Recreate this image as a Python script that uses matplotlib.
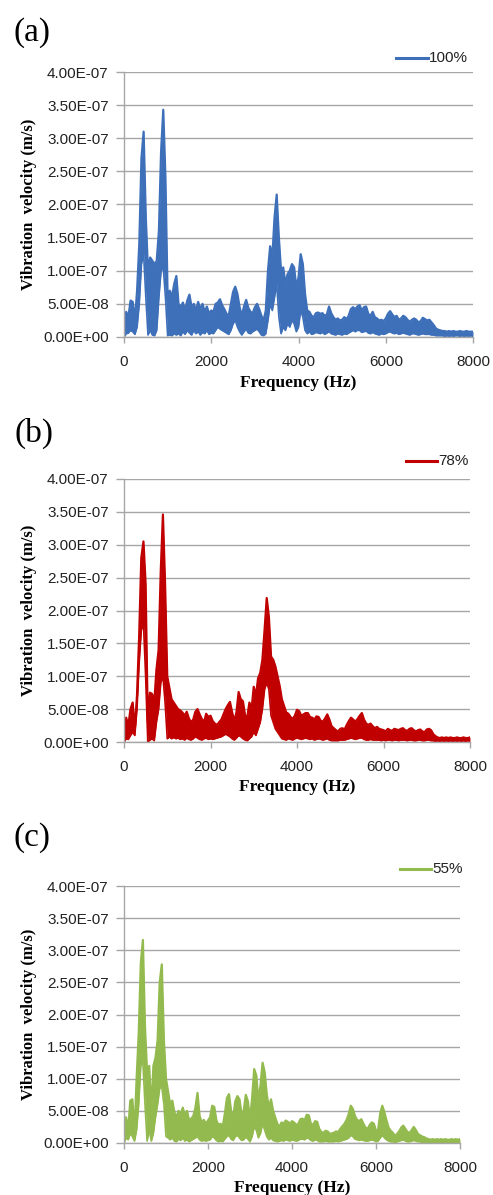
import numpy as np
import matplotlib
matplotlib.use("Agg")
import matplotlib.pyplot as plt
from matplotlib.ticker import FuncFormatter

# ---------------- data (values in units of 1e-8 m/s) ----------------
freq = list(range(0, 8001, 50))          # Hz, 161 sample frequencies
SCALE = 1e-8

hi_100 = [2.0, 3.8, 3.0, 5.5, 5.3, 2.5, 7.0, 14.0, 27.0, 31.0,
          18.0, 10.0, 12.0, 11.5, 11.0, 11.5, 16.0, 28.0, 34.3, 24.0,
          6.0, 7.0, 6.0, 8.0, 9.2, 5.0, 4.5, 5.2, 4.0, 5.5,
          6.4, 4.5, 5.0, 4.0, 5.3, 4.2, 5.0, 3.8, 4.6, 3.5,
          4.0, 3.8, 5.0, 5.2, 5.7, 4.8, 4.2, 3.5, 3.2, 5.0,
          6.8, 7.6, 6.5, 4.5, 3.2, 4.6, 5.6, 4.4, 3.8, 3.6,
          4.5, 5.0, 4.2, 3.2, 2.5, 4.0, 10.0, 13.7, 12.0, 18.0,
          21.5, 15.0, 10.0, 10.5, 8.0, 9.5, 10.0, 11.0, 10.5, 7.5,
          9.0, 12.5, 11.0, 6.5, 4.0, 3.8, 3.2, 3.0, 3.6, 3.7,
          3.5, 3.6, 3.2, 3.4, 4.6, 3.6, 3.0, 2.6, 2.8, 2.5,
          2.6, 3.0, 2.7, 3.2, 4.2, 4.5, 4.2, 4.6, 4.8, 4.0,
          4.5, 4.6, 3.5, 3.2, 3.8, 3.0, 2.8, 2.5, 2.6, 2.4,
          2.8, 3.5, 3.9, 3.4, 3.0, 3.2, 2.6, 2.8, 3.2, 3.0,
          2.6, 2.3, 2.6, 2.8, 2.6, 2.2, 2.4, 2.9, 2.7, 2.5,
          2.6, 2.2, 1.8, 1.3, 1.1, 1.0, 0.9, 0.9, 0.8, 0.9,
          0.8, 0.9, 0.8, 0.8, 0.9, 0.8, 0.8, 0.9, 0.8, 0.8,
          0.8]
lo_100 = [0.0, 0.5, 0.6, 1.0, 0.8, 0.4, 1.5, 5.0, 11.0, 12.5,
          6.0, 0.3, 1.0, 0.3, 0.2, 1.0, 6.0, 10.0, 10.5, 6.0,
          0.2, 0.3, 0.2, 0.5, 0.3, 0.5, 0.2, 0.8, 0.4, 1.0,
          0.6, 0.3, 1.0, 0.5, 0.8, 0.3, 0.7, 0.5, 1.0, 0.4,
          0.6, 0.5, 1.0, 1.5, 1.2, 1.0, 0.8, 0.6, 0.4, 1.0,
          2.0, 2.5, 1.5, 0.8, 0.3, 0.8, 1.2, 0.6, 0.5, 0.8,
          1.0, 1.2, 0.8, 0.3, 0.2, 0.5, 2.5, 5.0, 4.0, 6.0,
          8.0, 3.0, 0.5, 1.5, 1.0, 2.0, 1.5, 2.5, 2.0, 0.8,
          1.5, 4.0, 3.0, 1.0, 0.5, 0.8, 0.4, 0.5, 0.7, 0.6,
          0.5, 0.7, 0.4, 0.6, 0.8, 0.5, 0.4, 0.3, 0.5, 0.4,
          0.3, 0.5, 0.4, 0.6, 0.8, 1.0, 0.8, 1.0, 1.0, 0.7,
          0.8, 0.9, 0.6, 0.5, 0.7, 0.5, 0.4, 0.3, 0.5, 0.4,
          0.5, 0.7, 0.8, 0.6, 0.5, 0.6, 0.4, 0.5, 0.6, 0.5,
          0.4, 0.3, 0.5, 0.5, 0.4, 0.3, 0.4, 0.5, 0.4, 0.4,
          0.4, 0.3, 0.3, 0.2, 0.2, 0.2, 0.2, 0.1, 0.2, 0.1,
          0.2, 0.1, 0.2, 0.2, 0.1, 0.2, 0.1, 0.2, 0.1, 0.2,
          0.1]

hi_78 = [1.0, 3.7, 2.5, 5.0, 6.0, 2.0, 7.0, 16.0, 28.0, 30.5,
         24.0, 3.0, 7.5, 7.3, 6.0, 11.0, 14.0, 26.0, 34.6, 24.0,
         10.0, 8.2, 6.5, 6.0, 5.5, 5.0, 4.8, 4.5, 4.0, 4.6,
         3.6, 3.0, 3.4, 4.6, 5.0, 4.2, 3.5, 3.0, 4.3, 3.8,
         4.0, 3.2, 2.8, 2.6, 3.0, 3.4, 4.2, 5.0, 5.6, 6.1,
         4.5, 3.2, 4.5, 7.6, 6.5, 6.2, 4.0, 3.8, 6.0, 5.0,
         8.4, 7.0, 9.7, 10.5, 12.5, 17.0, 21.9, 19.0, 13.0, 12.5,
         11.5, 10.0, 8.5, 6.5, 5.5, 4.5, 4.3, 3.8, 3.5, 4.0,
         4.9, 4.7, 4.0, 4.2, 4.4, 4.4, 3.8, 3.7, 3.4, 3.9,
         3.8, 3.2, 3.1, 3.6, 4.2, 3.4, 2.4, 2.1, 1.8, 1.6,
         2.0, 2.1, 1.9, 2.6, 3.2, 3.7, 3.4, 3.1, 3.5, 4.0,
         4.4, 3.4, 2.8, 2.6, 2.8, 2.4, 2.1, 2.3, 2.0, 1.9,
         1.8, 1.6, 2.0, 1.8, 1.7, 2.0, 1.9, 1.8, 2.0, 2.1,
         1.8, 1.7, 2.0, 2.1, 1.8, 1.6, 1.8, 1.9, 1.6, 1.5,
         1.9, 2.0, 1.8, 1.2, 0.9, 0.7, 0.6, 0.7, 0.6, 0.7,
         0.6, 0.7, 0.6, 0.6, 0.7, 0.6, 0.6, 0.7, 0.6, 0.6,
         0.7]
lo_78 = [0.0, 0.5, 0.4, 1.0, 1.5, 1.0, 5.0, 12.0, 17.0, 18.0,
         10.0, 0.0, 0.3, 0.5, 0.2, 3.0, 5.0, 9.0, 10.0, 6.0,
         0.5, 0.8, 0.5, 0.7, 0.5, 0.6, 0.4, 0.5, 0.3, 0.6,
         0.4, 0.3, 0.5, 0.8, 0.6, 0.4, 0.3, 0.5, 0.6, 0.4,
         0.5, 0.4, 0.5, 0.6, 0.7, 0.8, 1.0, 1.2, 1.0, 0.8,
         0.5, 0.3, 0.6, 1.0, 0.8, 0.5, 0.3, 0.2, 0.5, 0.8,
         1.5, 1.0, 2.0, 3.0, 5.0, 8.0, 9.0, 8.0, 4.0, 3.0,
         2.0, 1.5, 1.0, 0.5, 0.4, 0.3, 0.5, 0.4, 0.3, 0.5,
         0.6, 0.5, 0.4, 0.5, 0.6, 0.5, 0.4, 0.5, 0.3, 0.4,
         0.5, 0.4, 0.3, 0.4, 0.5, 0.3, 0.2, 0.2, 0.2, 0.2,
         0.3, 0.3, 0.3, 0.4, 0.5, 0.6, 0.5, 0.4, 0.5, 0.6,
         0.6, 0.4, 0.3, 0.3, 0.4, 0.3, 0.3, 0.3, 0.3, 0.2,
         0.3, 0.2, 0.3, 0.3, 0.2, 0.3, 0.3, 0.2, 0.3, 0.3,
         0.3, 0.2, 0.3, 0.3, 0.2, 0.2, 0.3, 0.3, 0.2, 0.2,
         0.3, 0.3, 0.2, 0.2, 0.1, 0.2, 0.1, 0.2, 0.1, 0.2,
         0.1, 0.2, 0.1, 0.2, 0.1, 0.2, 0.1, 0.2, 0.1, 0.2,
         0.1]

hi_55 = [1.5, 4.0, 2.0, 6.6, 6.8, 1.5, 10.0, 17.0, 28.0, 31.6,
         18.0, 11.0, 12.0, 5.0, 12.0, 13.3, 16.0, 25.0, 27.8, 16.0,
         10.0, 8.0, 6.0, 6.6, 4.8, 4.0, 5.0, 4.5, 5.5, 4.2,
         5.0, 3.5, 3.8, 4.2, 5.5, 7.8, 4.2, 3.2, 3.6, 3.0,
         3.5, 4.0, 5.8, 5.6, 3.5, 2.8, 3.0, 2.5, 4.5, 7.0,
         7.6, 5.0, 4.0, 6.5, 7.3, 6.8, 4.5, 5.0, 7.5, 6.5,
         3.5, 7.0, 11.5, 10.5, 6.5, 9.0, 12.5, 11.0, 7.5, 5.5,
         6.8, 5.0, 4.0, 3.0, 2.5, 3.2, 3.0, 3.5, 3.3, 3.0,
         3.4, 3.2, 2.8, 3.0, 3.7, 3.8, 3.5, 4.4, 4.3, 3.0,
         2.8, 3.4, 3.3, 2.2, 1.7, 1.6, 1.9, 1.8, 1.4, 1.5,
         1.6, 1.8, 1.7, 2.2, 2.6, 3.0, 3.6, 4.5, 5.8, 5.3,
         4.2, 3.6, 3.4, 3.7, 3.0, 2.4, 2.2, 2.8, 3.2, 3.0,
         1.9, 2.0, 4.6, 5.8, 4.8, 3.5, 2.4, 1.9, 1.6, 1.1,
         1.4, 1.8, 2.4, 2.7, 2.2, 1.7, 1.6, 2.0, 2.5, 2.0,
         1.4, 1.2, 1.0, 0.9, 0.7, 0.6, 0.5, 0.6, 0.5, 0.6,
         0.5, 0.6, 0.5, 0.6, 0.5, 0.5, 0.6, 0.5, 0.6, 0.5,
         0.6]
lo_55 = [0.0, 0.8, 0.5, 1.5, 1.0, 0.3, 2.0, 6.0, 12.0, 12.5,
         6.0, 0.3, 2.0, 0.3, 1.5, 4.0, 6.0, 8.5, 8.7, 6.0,
         1.0, 0.8, 0.5, 0.8, 0.3, 0.2, 0.6, 0.4, 0.8, 0.3,
         0.5, 0.2, 0.4, 0.6, 0.8, 1.0, 0.5, 0.3, 0.4, 0.3,
         0.4, 0.5, 1.0, 0.8, 0.4, 0.2, 0.3, 0.2, 0.6, 1.0,
         1.2, 0.6, 0.4, 1.0, 1.2, 0.8, 0.4, 0.5, 1.0, 0.6,
         0.2, 1.0, 2.5, 2.0, 0.8, 1.5, 3.0, 2.0, 1.0, 0.5,
         0.8, 0.4, 0.3, 0.2, 0.3, 0.4, 0.3, 0.5, 0.4, 0.3,
         0.5, 0.4, 0.3, 0.4, 0.6, 0.6, 0.5, 0.8, 0.7, 0.4,
         0.3, 0.5, 0.4, 0.2, 0.2, 0.2, 0.3, 0.2, 0.2, 0.2,
         0.2, 0.3, 0.2, 0.3, 0.4, 0.5, 0.6, 0.8, 1.2, 1.0,
         0.6, 0.5, 0.4, 0.5, 0.4, 0.3, 0.3, 0.4, 0.5, 0.4,
         0.2, 0.3, 0.8, 1.2, 0.8, 0.5, 0.3, 0.2, 0.2, 0.1,
         0.2, 0.3, 0.4, 0.5, 0.3, 0.2, 0.2, 0.3, 0.4, 0.3,
         0.2, 0.2, 0.1, 0.1, 0.1, 0.1, 0.1, 0.1, 0.1, 0.1,
         0.1, 0.1, 0.1, 0.1, 0.1, 0.1, 0.1, 0.1, 0.1, 0.1,
         0.1]

panel_tags = ["(a)", "(b)", "(c)"]
series_names = ["100%", "78%", "55%"]
colors = ["#3E70BA", "#C00000", "#93BA4E"]
x_ticks = [0, 2000, 4000, 6000, 8000]
y_ticks = [0, 5e-8, 1e-7, 1.5e-7, 2e-7, 2.5e-7, 3e-7, 3.5e-7, 4e-7]

# ---------------- layout (pixel boxes: left, top, right, bottom) ----------------
W, H = 493, 1195
boxes = [(124, 72, 473, 337), (124, 479, 470, 742), (124, 886, 460, 1143)]
tag_pos = [(32, 33), (34, 433), (32, 838)]
legend_y = [58, 461, 869]
legend_line = [(396, 428), (406, 437), (400, 431)]
xlabel_y = [383, 787, 1188]
ylabel_x = 29

sans = ["Liberation Sans", "DejaVu Sans"]
serif = ["Liberation Serif", "DejaVu Serif"]

fig = plt.figure(figsize=(W / 100, H / 100), dpi=100)

def fx(px):
    return px / W

def fy(py):
    return 1 - py / H

his = [hi_100, hi_78, hi_55]
los = [lo_100, lo_78, lo_55]

for k in range(3):
    l, t, r, b = boxes[k]
    ax = fig.add_axes([fx(l), fy(b), fx(r) - fx(l), fy(t) - fy(b)])
    f = np.asarray(freq, dtype=float)
    hi = np.asarray(his[k]) * SCALE
    lo = np.asarray(los[k]) * SCALE
    ax.fill_between(f, lo, hi, color=colors[k], lw=0)
    ax.plot(f, hi, color=colors[k], lw=1.6, solid_joinstyle="round")
    ax.plot(f, lo, color=colors[k], lw=1.2, solid_joinstyle="round")
    ax.set_xlim(0, 8000)
    ax.set_ylim(0, 4e-7)
    ax.set_xticks(x_ticks)
    ax.set_yticks(y_ticks)
    ax.yaxis.set_major_formatter(FuncFormatter(lambda v, p: f"{v:.2E}"))
    ax.grid(axis="y", color="#A6A6A6", lw=1.0)
    ax.set_axisbelow(True)
    for s in ["top", "right"]:
        ax.spines[s].set_visible(False)
    for s in ["left", "bottom"]:
        ax.spines[s].set_color("#A6A6A6")
        ax.spines[s].set_linewidth(1.0)
    ax.tick_params(axis="y", length=6, width=1.0, color="#A6A6A6", pad=5,
                   labelsize=11, labelcolor="#222222")
    ax.tick_params(axis="x", length=4, width=1.0, color="#A6A6A6", pad=9,
                   labelsize=11, labelcolor="#222222")
    for lab in ax.get_xticklabels() + ax.get_yticklabels():
        lab.set_family(sans)

    # axis labels
    fig.text(fx((l + r) / 2), fy(xlabel_y[k]), "Frequency (Hz)", family=serif,
             fontweight="bold", fontsize=12.5, ha="center", va="center")
    fig.text(fx(ylabel_x), fy((t + b) / 2), "Vibration  velocity (m/s)", family=serif,
             fontweight="bold", fontsize=12, rotation=90, ha="center", va="center")
    # panel tag
    fig.text(fx(tag_pos[k][0]), fy(tag_pos[k][1]), panel_tags[k], family=serif,
             fontsize=24, ha="center", va="center")
    # legend (line + text)
    x0, x1 = legend_line[k]
    fig.lines.append(plt.Line2D([fx(x0), fx(x1)], [fy(legend_y[k]), fy(legend_y[k])],
                                transform=fig.transFigure, color=colors[k], lw=2.2))
    fig.text(fx(x1 + 1), fy(legend_y[k]), series_names[k], family=sans, fontsize=11,
             ha="left", va="center", color="#222222")

fig.savefig("out.png", dpi=100)
